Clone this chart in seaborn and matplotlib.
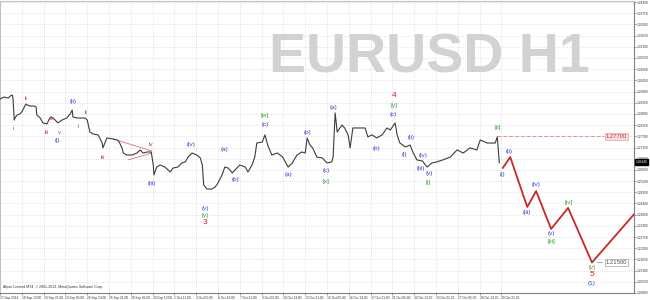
import matplotlib
matplotlib.use("Agg")
import matplotlib.pyplot as plt
import seaborn as sns
import pandas as pd

# ---------------- data ----------------
price_bars = [0, 6, 12, 15, 18, 19, 21, 22, 25, 29, 32, 35, 38, 40, 44, 50, 53, 54, 59, 63,
              69, 73, 76, 81, 85, 91, 98, 103, 106, 107, 113, 120, 125, 128, 132, 137, 144, 150, 151, 154,
              157, 166, 172, 175, 179, 181, 186, 194, 201, 206, 210, 216, 222, 225, 226, 230, 235, 242, 250, 254,
              261, 267, 272, 276, 282, 289, 294, 297, 299, 304, 311, 316, 320, 326, 330, 335, 341, 345, 352, 360,
              364, 370, 374, 377, 385, 389, 393, 399, 407, 415, 423, 429, 436, 443, 448, 451, 455, 459, 465, 473,
              480, 487, 489, 492, 495, 502, 506, 511, 514, 518, 528, 536, 540, 546, 553, 561, 568, 573, 580, 583,
              587, 595, 602, 606, 612, 620, 627, 634, 641, 650, 661, 671, 680, 690, 700, 705, 715, 727, 730, 733]
price_close = [1.2953, 1.2963, 1.2958, 1.2968, 1.2973, 1.2958, 1.2850, 1.2860, 1.2875, 1.2880,
               1.2890, 1.2909, 1.2929, 1.2924, 1.2919, 1.2919, 1.2914, 1.2875, 1.2860, 1.2836,
               1.2831, 1.2860, 1.2865, 1.2850, 1.2836, 1.2850, 1.2860, 1.2880, 1.2899, 1.2865,
               1.2860, 1.2860, 1.2860, 1.2850, 1.2791, 1.2781, 1.2777, 1.2737, 1.2713, 1.2737,
               1.2762, 1.2757, 1.2752, 1.2742, 1.2713, 1.2688, 1.2678, 1.2678, 1.2688, 1.2703,
               1.2688, 1.2693, 1.2693, 1.2629, 1.2580, 1.2619, 1.2629, 1.2619, 1.2595, 1.2614,
               1.2619, 1.2639, 1.2644, 1.2668, 1.2688, 1.2678, 1.2664, 1.2629, 1.2531, 1.2511,
               1.2511, 1.2521, 1.2541, 1.2580, 1.2619, 1.2614, 1.2590, 1.2605, 1.2629, 1.2619,
               1.2595, 1.2629, 1.2668, 1.2737, 1.2742, 1.2777, 1.2727, 1.2678, 1.2688, 1.2668,
               1.2619, 1.2639, 1.2678, 1.2693, 1.2688, 1.2762, 1.2727, 1.2713, 1.2668, 1.2664,
               1.2639, 1.2644, 1.2668, 1.2885, 1.2791, 1.2826, 1.2811, 1.2777, 1.2713, 1.2811,
               1.2811, 1.2811, 1.2767, 1.2777, 1.2762, 1.2777, 1.2811, 1.2801, 1.2836, 1.2777,
               1.2737, 1.2718, 1.2727, 1.2693, 1.2654, 1.2649, 1.2619, 1.2639, 1.2644, 1.2654,
               1.2668, 1.2703, 1.2688, 1.2713, 1.2703, 1.2752, 1.2737, 1.2737, 1.2767, 1.2639]

proj_bars = [738, 749, 774, 787, 809, 834, 869, 935]
proj_price = [1.2614, 1.2668, 1.2423, 1.2501, 1.2315, 1.2418, 1.2150, 1.2403]

triangle_upper_bars = [166, 223]
triangle_upper_price = [1.2757, 1.2698]
triangle_lower_bars = [188, 223]
triangle_lower_price = [1.2654, 1.2688]

target_high = 1.27700
target_low = 1.21500
current_price = 1.26440

xtick_bars = [0, 32, 64, 96, 128, 160, 192, 224, 256, 288, 320, 352, 384, 416, 448, 480,
              512, 544, 576, 608, 640, 672, 704, 736]
xtick_labels = ["17 Sep 2014", "18 Sep 13:00", "19 Sep 21:00", "23 Sep 05:00", "24 Sep 13:00",
                "25 Sep 21:00", "29 Sep 05:00", "30 Sep 13:00", "1 Oct 21:00", "3 Oct 05:00",
                "6 Oct 13:00", "7 Oct 21:00", "9 Oct 05:00", "10 Oct 13:00", "13 Oct 21:00",
                "15 Oct 05:00", "16 Oct 13:00", "17 Oct 21:00", "21 Oct 05:00", "22 Oct 13:00",
                "23 Oct 21:00", "27 Oct 05:00", "28 Oct 13:00", "29 Oct 21:00"]
ytick_values = [1.2000, 1.2055, 1.2110, 1.2165, 1.2220, 1.2275, 1.2330, 1.2385, 1.2440, 1.2495,
                1.2550, 1.2605, 1.2660, 1.2715, 1.2770, 1.2825, 1.2880, 1.2935, 1.2990, 1.3045,
                1.3100, 1.3155, 1.3210, 1.3265, 1.3320, 1.3375, 1.3430]
ytick_labels = ["1.20000", "1.20550", "1.21100", "1.21650", "1.22200", "1.22750", "1.23300",
                "1.23850", "1.24400", "1.24950", "1.25500", "1.26050", "1.26600", "1.27150",
                "1.27700", "1.28250", "1.28800", "1.29350", "1.29900", "1.30450", "1.31000",
                "1.31550", "1.32100", "1.32650", "1.33200", "1.33750", "1.34300"]

# wave labels: text, bar, price, kind
wave_text = ["i", "ii", "iii", "iv", "v", "(i)", "(ii)", "i", "ii", "iii", "iv", "(iii)", "(iv)",
             "(v)", "[v]", "3", "(a)", "(b)", "[w]", "(c)", "(a)", "(b)", "(c)", "[x]", "(a)",
             "4", "[y]", "(c)", "(b)", "(i)", "(ii)", "(iii)", "(iv)", "(v)", "[i]", "[ii]",
             "(i)", "(ii)", "(iii)", "(iv)", "(v)", "[iii]", "[iv]", "[v]", "5", "(1)"]
wave_bar = [19, 38, 68, 76, 87, 85, 107, 115, 126, 151, 222, 223, 280,
            301, 301, 301, 329, 345, 389, 389, 423, 451, 479, 479, 489,
            578, 578, 578, 553, 593, 603, 618, 621, 630, 628, 730,
            737, 747, 774, 787, 809, 809, 834, 869, 869, 869]
wave_price = [1.2806, 1.2958, 1.2791, 1.2860, 1.2791, 1.2747, 1.2939, 1.2816, 1.2885, 1.2668,
              1.2732, 1.2536, 1.2732, 1.2413, 1.2379, 1.2345, 1.2703, 1.2556, 1.2870, 1.2826,
              1.2580, 1.2791, 1.2600, 1.2546, 1.2914, 1.2973, 1.2919, 1.2875, 1.2708, 1.2683,
              1.2762, 1.2610, 1.2674, 1.2585, 1.2541, 1.2811, 1.2580, 1.2693, 1.2398, 1.2531,
              1.2290, 1.2251, 1.2447, 1.2123, 1.2089, 1.2045]
wave_kind = ["r", "r", "r", "r", "r", "b", "b", "r", "r", "r", "r", "b", "b",
             "b", "g", "R", "b", "b", "g", "b", "b", "b", "b", "g", "b",
             "R", "g", "b", "b", "b", "b", "b", "b", "b", "g", "g",
             "b", "b", "b", "b", "b", "g", "g", "g", "R", "b"]

# ---------------- style ----------------
sns.set_theme(style="white")
plt.rcParams["font.family"] = ["Liberation Sans", "DejaVu Sans"]

fig = plt.figure(figsize=(6.5, 3.0), dpi=100)
ax = fig.add_axes([0.0, 1 - 293 / 300, 634 / 650, 292 / 300])
ax.set_facecolor("white")

price_df = pd.DataFrame({"bar": price_bars, "price": price_close})
proj_df = pd.DataFrame({"bar": proj_bars, "price": proj_price})

sns.lineplot(data=price_df, x="bar", y="price", ax=ax, color="#3c3c3c", lw=0.8,
             estimator=None, sort=False, zorder=3)
sns.lineplot(data=proj_df, x="bar", y="price", ax=ax, color="#c82828", lw=1.3,
             estimator=None, sort=False, zorder=3)
sns.lineplot(x=triangle_upper_bars, y=triangle_upper_price, ax=ax, color="#e07070", lw=0.6,
             estimator=None, sort=False, zorder=2)
sns.lineplot(x=triangle_lower_bars, y=triangle_lower_price, ax=ax, color="#e07070", lw=0.6,
             estimator=None, sort=False, zorder=2)

ax.set_xlim(0, 930.7)
ax.set_ylim(1.2000, 1.3435)

# grid
ax.set_xticks(xtick_bars)
ax.set_xticklabels(xtick_labels, fontsize=2.3, ha="left", color="#333333")
ax.yaxis.tick_right()
ax.set_yticks(ytick_values)
ax.set_yticklabels(ytick_labels, fontsize=2.3, color="#333333")
ax.grid(True, color="#c8c8c8", lw=0.5, ls=(0, (1, 2)))
ax.tick_params(axis="x", length=1.5, width=0.5, pad=0.6, color="#666666", direction="out", bottom=True)
ax.tick_params(axis="y", length=1.5, width=0.5, pad=0.6, color="#666666", direction="out", right=True)
ax.set_xlabel("")
ax.set_ylabel("")
for side in ["left", "top"]:
    ax.spines[side].set_color("#c0c0c0")
    ax.spines[side].set_linewidth(0.8)
for side in ["right", "bottom"]:
    ax.spines[side].set_color("#808080")
    ax.spines[side].set_linewidth(0.8)

# watermark
ax.text(0.93, 0.755, "EURUSD H1", transform=ax.transAxes, ha="right", va="baseline",
        fontsize=40, fontweight="bold", color="#d2d2d2", family="Liberation Sans", zorder=1)

# copyright
ax.text(0.004, 0.012, "Alpari Limited MT4, \u00a9 2001-2013, MetaQuotes Software Corp.",
        transform=ax.transAxes, fontsize=2.6, color="#333333", ha="left", va="bottom")

# target lines
ax.plot([730, 887], [target_high, target_high], color="#e89090", lw=0.7, ls=(0, (4, 2)), zorder=2)
ax.text(889, target_high, "%.5f" % target_high, fontsize=4.2, color="#d03030", ha="left",
        va="center", bbox=dict(boxstyle="square,pad=0.15", fc="#f8dede", ec="#e8a0a0", lw=0.5))
ax.plot([876, 884], [target_low, target_low], color="#808080", lw=0.5)
ax.text(889, target_low, "%.5f" % target_low, fontsize=4.2, color="#505050", ha="left",
        va="center", bbox=dict(boxstyle="square,pad=0.15", fc="white", ec="#a0a0a0", lw=0.5))

# current price tag
ax.text(1.003, (current_price - 1.2000) / (1.3435 - 1.2000), "%.5f" % current_price,
        transform=ax.transAxes, fontsize=2.3, color="white", ha="left", va="center",
        bbox=dict(boxstyle="square,pad=0.2", fc="black", ec="black"), clip_on=False)

# wave labels
colors = {"r": "#d04040", "b": "#3a3ad8", "g": "#2ea02e", "R": "#d02020"}
for t, b, p, k in zip(wave_text, wave_bar, wave_price, wave_kind):
    ax.text(b, p, t, color=colors[k], fontsize=6.0 if k == "R" else 4.6,
            ha="center", va="center", zorder=4)

fig.savefig("out.png", dpi=100)
